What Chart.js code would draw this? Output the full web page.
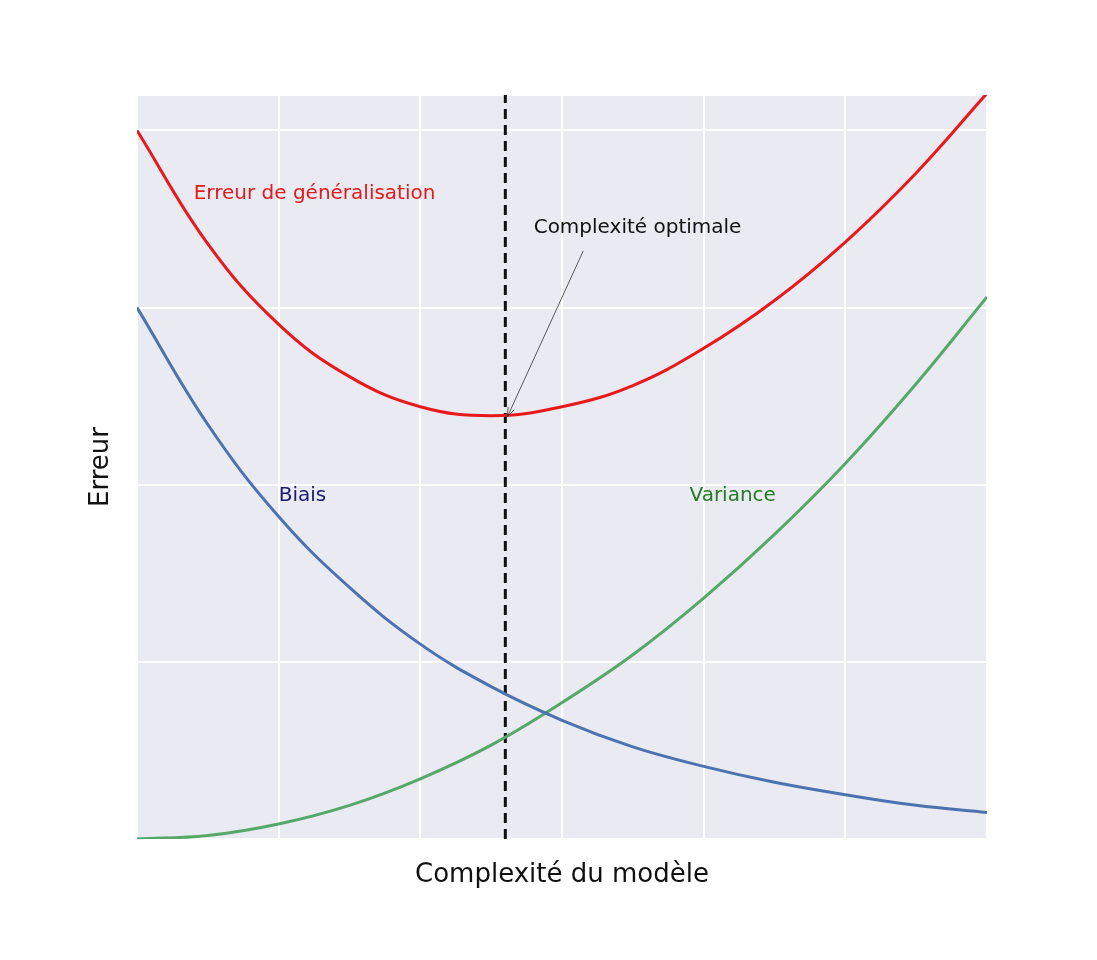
<!DOCTYPE html>
<html><head><meta charset="utf-8">
<script src="https://cdn.jsdelivr.net/npm/chart.js@4/dist/chart.umd.min.js"></script>
<style>html,body{margin:0;padding:0;background:#fff}#w{width:1097px;height:960px}</style>
</head><body><div id="w"><canvas id="c"></canvas></div>
<script>
const complexity = [0,0.5,1,1.5,2,2.5,3,3.5,4,4.5,5,5.5,6];
const biais = [3.00,2.34,1.82,1.42,1.10,0.86,0.67,0.52,0.41,0.32,0.25,0.19,0.15];
const variance = [0,0.02,0.085,0.19,0.34,0.53,0.77,1.04,1.36,1.72,2.12,2.57,3.06];
const generalisation = [4.00,3.36,2.905,2.61,2.44,2.39,2.44,2.56,2.77,3.04,3.37,3.76,4.21];
const optimalX = 2.6;
const optimalY = 2.40;
const yMax = 4.2;

const pts = a => a.map((v,i)=>({x:complexity[i],y:v}));
const F = 'DejaVu Sans';
const labelsPlugin = {
  id:'labels',
  afterDraw(ch){
    const c=ch.ctx, x=ch.scales.x, y=ch.scales.y;
    c.save();
    c.font='20px "'+F+'"'; c.textBaseline='middle'; c.textAlign='left';
    c.fillStyle='#e41a1c'; c.fillText('Erreur de généralisation', x.getPixelForValue(0.4), y.getPixelForValue(3.64));
    c.fillStyle='#1a1a6e'; c.fillText('Biais', x.getPixelForValue(1.0), y.getPixelForValue(1.94));
    c.fillStyle='#237a23'; c.fillText('Variance', x.getPixelForValue(3.9), y.getPixelForValue(1.94));
    c.fillStyle='#111'; c.fillText('Complexité optimale', x.getPixelForValue(2.8), y.getPixelForValue(3.45));
    // arrow
    const x0=x.getPixelForValue(3.15), y0=y.getPixelForValue(3.32);
    const x1=x.getPixelForValue(optimalX)+2, y1=y.getPixelForValue(optimalY)+3;
    c.strokeStyle='#333'; c.lineWidth=0.8;
    c.beginPath(); c.moveTo(x0,y0); c.lineTo(x1,y1); c.stroke();
    const ang=Math.atan2(y1-y0,x1-x0);
    c.beginPath(); c.moveTo(x1,y1);
    c.lineTo(x1-10*Math.cos(ang-0.35), y1-10*Math.sin(ang-0.35));
    c.moveTo(x1,y1);
    c.lineTo(x1-10*Math.cos(ang+0.35), y1-10*Math.sin(ang+0.35));
    c.stroke();
    // axis titles
    c.fillStyle='#111'; c.font='26px "'+F+'"'; c.textAlign='center';
    c.fillText('Complexité du modèle', (ch.chartArea.left+ch.chartArea.right)/2, 875);
    c.translate(101,(ch.chartArea.top+ch.chartArea.bottom)/2); c.rotate(-Math.PI/2);
    c.fillText('Erreur',0,0);
    c.restore();
  }
};
const bgPlugin={id:'bg',beforeDraw(ch){const a=ch.chartArea,c=ch.ctx;c.save();c.fillStyle='#eaeaf2';c.fillRect(a.left,a.top,a.right-a.left,a.bottom-a.top);c.restore();}};
new Chart(document.getElementById('c'),{
  type:'line',
  data:{datasets:[
    {data:pts(generalisation),borderColor:'#e8191c',borderWidth:3,tension:0.4,pointRadius:0},
    {data:pts(biais),borderColor:'#4c72b0',borderWidth:3,tension:0.4,pointRadius:0},
    {data:pts(variance),borderColor:'#55a868',borderWidth:3,tension:0.4,pointRadius:0},
    {data:[{x:optimalX,y:0},{x:optimalX,y:yMax}],borderColor:'#111',borderWidth:3,borderDash:[10,6],pointRadius:0}
  ]},
  options:{
    responsive:true,maintainAspectRatio:false,animation:false,
    layout:{padding:{left:137,right:110,top:95,bottom:121}},
    plugins:{legend:{display:false},tooltip:{enabled:false}},
    scales:{
      x:{type:'linear',min:0,max:6,ticks:{display:false,stepSize:1},border:{display:false},grid:{color:'#fff',lineWidth:2,drawTicks:false}},
      y:{min:0,max:yMax,ticks:{display:false,stepSize:1},border:{display:false},grid:{color:'#fff',lineWidth:2,drawTicks:false}}
    }
  },
  plugins:[bgPlugin,labelsPlugin]
});
</script></body></html>
